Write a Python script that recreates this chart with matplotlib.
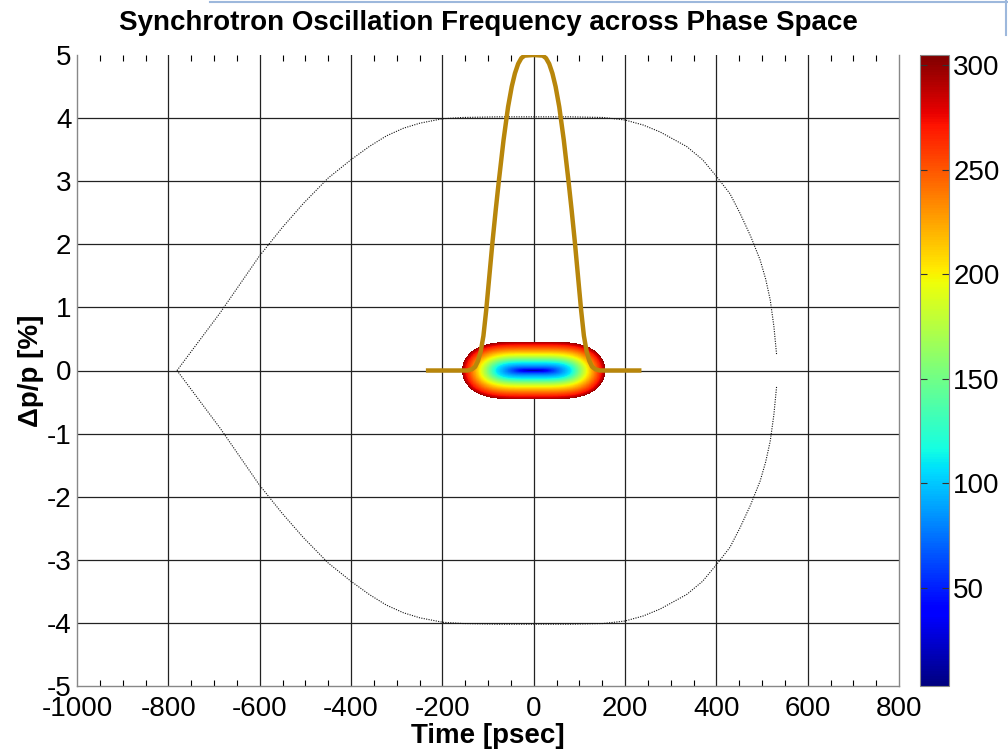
import matplotlib.pyplot as plt
import numpy as np
from matplotlib.lines import Line2D

plt.rcParams['font.family'] = ['Liberation Sans', 'DejaVu Sans']
plt.rcParams['axes.unicode_minus'] = False

# separatrix, upper half (time psec, dp/p %)
sep_t = [-781, -687, -601, -550, -504, -450, -400, -360, -322, -285, -249, -199, -155, -80, 0,
         80, 152, 200, 240, 277, 335, 370, 401, 430, 452, 475, 496, 508, 518, 526, 532]
sep_dp = [0.0, 0.91, 1.81, 2.27, 2.65, 3.05, 3.34, 3.55, 3.72, 3.84, 3.92, 3.99, 4.01, 4.02, 4.02,
          4.02, 4.01, 3.97, 3.89, 3.78, 3.55, 3.34, 3.07, 2.80, 2.49, 2.13, 1.75, 1.45, 1.12, 0.70, 0.25]

# bunch profile (gold curve)
prof_t = [-236, -145, -135, -128, -122, -116, -110, -104, -97, -90, -83, -76, -66, -56, -48, -41,
          -34, -27, -20, 0, 20, 27, 34, 41, 48, 56, 66, 76, 83, 90, 97, 104, 110, 116, 122, 128,
          135, 145, 236]
prof_y = [0.0, 0.0, 0.02, 0.06, 0.15, 0.3, 0.55, 0.95, 1.5, 2.05, 2.55, 3.02, 3.65, 4.18, 4.5,
          4.71, 4.86, 4.95, 4.99, 5.0, 4.99, 4.95, 4.86, 4.71, 4.5, 4.18, 3.65, 3.02, 2.55, 2.05,
          1.5, 0.95, 0.55, 0.3, 0.15, 0.06, 0.02, 0.0, 0.0]

# particle distribution: outer half-widths and frequency vs normalised amplitude
blob_t_half = 157.0
blob_dp_half = 0.46
ring_amp = [0.0, 0.52, 0.75, 0.94, 1.0]
ring_freq = [3, 110, 200, 270, 300]
freq_min, freq_max = 3, 305
cbar_ticks = [50, 100, 150, 200, 250, 300]

x_ticks = [-1000, -800, -600, -400, -200, 0, 200, 400, 600, 800]
y_ticks = [-5, -4, -3, -2, -1, 0, 1, 2, 3, 4, 5]

fig = plt.figure(figsize=(10.08, 7.51), dpi=100)
ax = fig.add_axes([77/1008, 65/751, 822/1008, 631/751])
cax = fig.add_axes([920/1008, 65/751, 29/1008, 631/751])

# grid drawn by hand so nothing shows at the limits (matlab style)
for xv in x_ticks[1:-1]:
    ax.axvline(xv, color='#222222', lw=0.9, zorder=0)
for yv in y_ticks[1:-1]:
    ax.axhline(yv, color='#222222', lw=0.9, zorder=0)

# coloured blob
tt = np.linspace(-blob_t_half - 5, blob_t_half + 5, 500)
pp = np.linspace(-blob_dp_half - 0.02, blob_dp_half + 0.02, 300)
T, P = np.meshgrid(tt, pp)
amp = ((T / blob_t_half) ** 4 + (P / blob_dp_half) ** 2) ** 0.25
val = np.ma.masked_where(amp > 1.0, np.interp(amp, ring_amp, ring_freq))
mesh = ax.pcolormesh(T, P, val, cmap='jet', vmin=freq_min, vmax=freq_max, shading='auto', zorder=2)

# separatrix (dotted)
sep_t = np.array(sep_t)
sep_dp = np.array(sep_dp)
ax.plot(sep_t, sep_dp, color='#111111', lw=0.8, ls=(0, (1, 1.2)), zorder=3)
ax.plot(sep_t, -sep_dp, color='#111111', lw=0.8, ls=(0, (1, 1.2)), zorder=3)

# bunch profile
ax.plot(prof_t, prof_y, color='#B8860B', lw=3.2, zorder=4, solid_capstyle='butt')

ax.set_xlim(-1000, 800)
ax.set_ylim(-5, 5)
ax.set_xticks(x_ticks)
ax.set_yticks(y_ticks)
ax.set_xticks(np.arange(-1000, 801, 50), minor=True)
ax.tick_params(axis='x', which='both', direction='in', top=True, bottom=True, labelsize=20, pad=7)
ax.tick_params(axis='x', which='major', length=0)
ax.tick_params(axis='x', which='minor', length=4, width=0.8)
ax.tick_params(axis='y', which='major', direction='in', length=0, labelsize=20, pad=4)
ax.spines['top'].set_visible(False)
for s in ['left', 'bottom', 'right']:
    ax.spines[s].set_color('#888888')
    ax.spines[s].set_linewidth(1.0)

ax.set_title('Synchrotron Oscillation Frequency across Phase Space', fontsize=20, fontweight='bold', pad=18)
ax.set_xlabel('Time [psec]', fontsize=20, fontweight='bold', labelpad=1)
ax.set_ylabel('\u0394p/p [%]', fontsize=20, fontweight='bold', labelpad=2)

cb = fig.colorbar(mesh, cax=cax, ticks=cbar_ticks)
cb.outline.set_edgecolor('#888888')
cax.tick_params(direction='in', length=5, left=True, right=True, labelsize=20, color='#333333', pad=3)

# screenshot frame lines
fig.add_artist(Line2D([210/1008, 1], [1 - 1.5/751, 1 - 1.5/751], color='#9db8dc', lw=1.5))
fig.add_artist(Line2D([1 - 2/1008, 1 - 2/1008], [1, 1 - 35/751], color='#9db8dc', lw=1.5))

plt.savefig('out.png', dpi=100)
